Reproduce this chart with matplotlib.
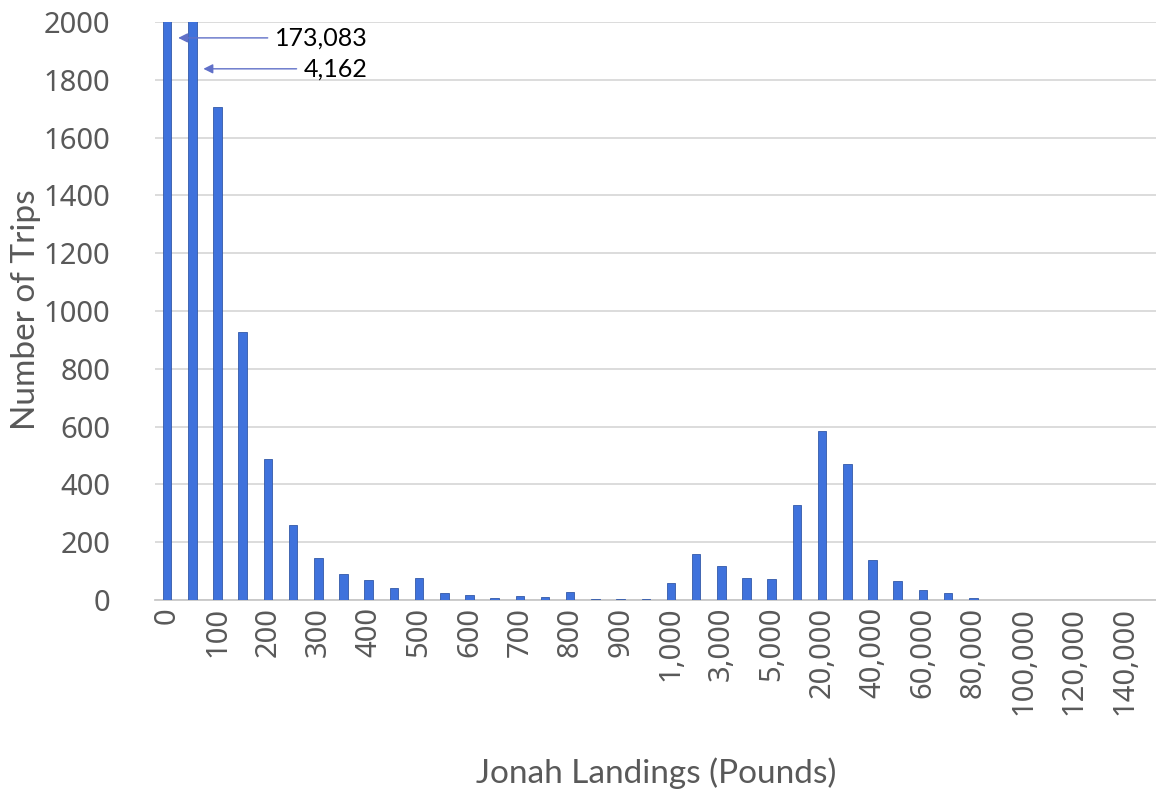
import matplotlib
matplotlib.use("Agg")
import matplotlib.pyplot as plt
import numpy as np

# category upper bounds (pounds) and trip counts
bins = [0, 50, 100, 150, 200, 250, 300, 350, 400, 450,
        500, 550, 600, 650, 700, 750, 800, 850, 900, 950,
        1000, 2000, 3000, 4000, 5000, 10000, 20000, 30000, 40000, 50000,
        60000, 70000, 80000, 90000, 100000, 110000, 120000, 130000, 140000, 150000]
trips = [173083, 4162, 1706, 928, 487, 260, 145, 90, 70, 43,
         76, 23, 19, 7, 15, 12, 29, 2, 5, 3,
         59, 160, 119, 77, 72, 330, 584, 469, 137, 65,
         34, 24, 8, 0, 0, 0, 0, 0, 0, 0]
callouts = [(0, "173,083"), (1, "4,162")]

labels = [f"{b:,}" if b >= 1000 else str(b) for b in bins]

plt.rcParams["font.family"] = ["Noto Sans", "DejaVu Sans"]

fig = plt.figure(figsize=(11.56, 7.91), dpi=100)
ax = fig.add_axes([155 / 1156, 1 - 600 / 791, 1 - 155 / 1156, (600 - 22) / 791])

x = np.arange(len(bins))
ax.bar(x, trips, width=0.34, color="#3f72dc", edgecolor="#3359a8", linewidth=0.6, zorder=3)

ax.set_ylim(0, 2000)
ax.set_xlim(-0.48, 39.25)
ax.set_yticks(np.arange(0, 2001, 200))
ax.grid(axis="y", color="#d9d9d9", linewidth=1.3, zorder=0)
ax.set_xticks(x[::2])
ax.set_xticklabels(labels[::2], rotation=90)
ax.tick_params(axis="both", length=0, labelsize=21, labelcolor="#595959")
ax.tick_params(axis="x", pad=5)
ax.tick_params(axis="y", pad=32)

for side in ["top", "right", "left"]:
    ax.spines[side].set_visible(False)
ax.spines["bottom"].set_color("#c8c8c8")
ax.spines["bottom"].set_linewidth(1.3)

# callouts for the clipped bars
heights = [1945, 1838]
for (idx, text), h in zip(callouts, heights):
    ax.annotate(
        text,
        xy=(idx + 0.44, h),
        xytext=(7.95, h),
        ha="right",
        va="center",
        fontsize=18,
        family="Lato",
        color="black",
        arrowprops=dict(arrowstyle="-|>", color="#6070c8", lw=1.0,
                        mutation_scale=14, relpos=(0, 0.5), shrinkA=3, shrinkB=0),
    )

fig.text(26 / 1156, 1 - 310 / 791, "Number of Trips", rotation=90, ha="center", va="center",
         fontsize=24, family="Lato", color="#595959")
fig.text(656 / 1156, 1 - 773 / 791, "Jonah Landings (Pounds)", ha="center", va="center",
         fontsize=24, family="Lato", color="#595959")

fig.savefig("out.png", dpi=100)
